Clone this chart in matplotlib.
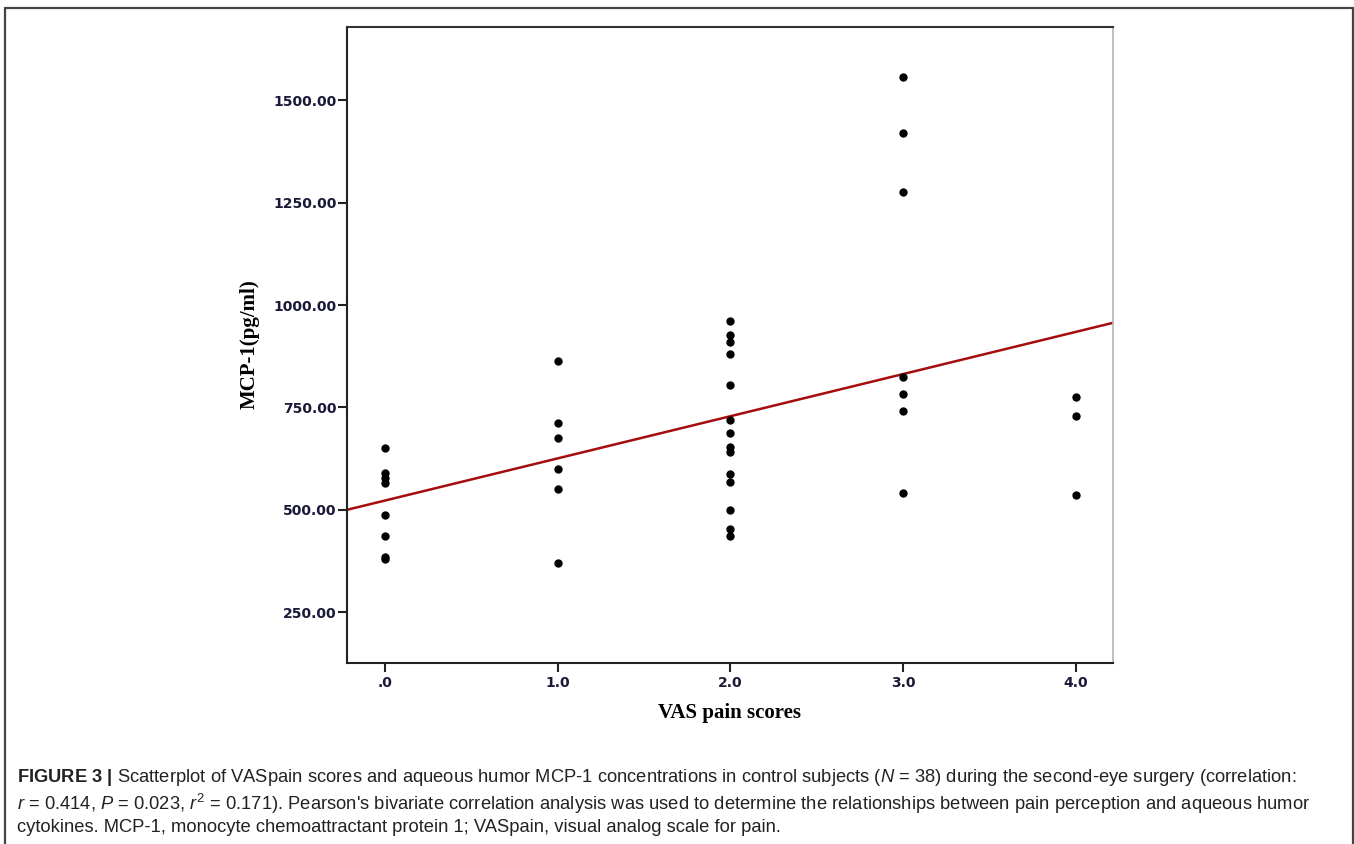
import numpy as np
import matplotlib
matplotlib.use("Agg")
import matplotlib.pyplot as plt
from matplotlib.patches import Rectangle

# ---- data ----
vas_0 = [651, 590, 577, 565, 488, 435, 386, 380]
vas_1 = [864, 711, 676, 600, 552, 371]
vas_2 = [961, 928, 909, 881, 806, 719, 687, 654, 642, 587, 568, 499, 453, 435]
vas_3 = [1556, 1421, 1275, 825, 783, 741, 542]
vas_4 = [776, 730, 537]
vas_levels = [0.0, 1.0, 2.0, 3.0, 4.0]
x_ticks = [0.0, 1.0, 2.0, 3.0, 4.0]
x_ticklabels = [".0", "1.0", "2.0", "3.0", "4.0"]
y_ticks = [250, 500, 750, 1000, 1250, 1500]
y_ticklabels = ["250.00", "500.00", "750.00", "1000.00", "1250.00", "1500.00"]

groups = [vas_0, vas_1, vas_2, vas_3, vas_4]
xs = np.concatenate([[lv] * len(g) for lv, g in zip(vas_levels, groups)])
ys = np.concatenate(groups).astype(float)

plt.rcParams['font.family'] = ['DejaVu Sans']
plt.rcParams['mathtext.fontset'] = 'custom'
plt.rcParams['mathtext.rm'] = 'Liberation Sans'
plt.rcParams['mathtext.it'] = 'Liberation Sans:italic'
plt.rcParams['mathtext.bf'] = 'Liberation Sans:bold'

W, H = 1354, 844
fig = plt.figure(figsize=(W / 100, H / 100), dpi=100)

# outer frame of the figure panel
fig.patches.append(Rectangle((5 / W, -0.02), (1353 - 5) / W, 1 - 8 / H + 0.02,
                             transform=fig.transFigure, fill=False,
                             edgecolor='#444444', linewidth=1.6))

L, R, T, B = 347, 1113, 27, 663
ax = fig.add_axes([L / W, 1 - B / H, (R - L) / W, (B - T) / H])

ax.scatter(xs, ys, s=36, color='black', zorder=3, linewidths=0)

xlim = (-0.22, 4.215)
ylim = (126, 1679)
slope, intercept = np.polyfit(xs, ys, 1)
xl = np.array(xlim)
ax.plot(xl, slope * xl + intercept, color='#a50d0d', lw=1.8, zorder=2)

ax.set_xlim(*xlim)
ax.set_ylim(*ylim)
ax.set_xticks(x_ticks)
ax.set_xticklabels(x_ticklabels, fontweight='bold')
ax.set_yticks(y_ticks)
ax.set_yticklabels(y_ticklabels, fontweight='bold')

ax.tick_params(axis='both', direction='out', length=6.5, width=1.5, color='#222222',
               labelsize=10, labelcolor='#1a1a38')
ax.tick_params(axis='x', pad=3)
ax.tick_params(axis='y', pad=1)

ax.spines['left'].set_color('#222222')
ax.spines['bottom'].set_color('#222222')
ax.spines['left'].set_linewidth(1.5)
ax.spines['bottom'].set_linewidth(1.5)
ax.spines['top'].set_color('#333333')
ax.spines['top'].set_linewidth(1.5)
ax.spines['right'].set_color('#b5b5b5')
ax.spines['right'].set_linewidth(1.2)

fig.text(730 / W, 1 - 713 / H, "VAS pain scores", family='Liberation Serif',
         weight='bold', fontsize=15, ha='center', va='center')
fig.text(250 / W, 1 - 344 / H, "MCP-1(pg/ml)", family='Liberation Serif',
         weight='bold', fontsize=15, ha='center', va='center', rotation=90)

cap_kw = dict(family='Liberation Sans', fontsize=13.2, ha='left', va='center', color='#222222')
fig.text(17 / W, 1 - 777 / H,
         r"$\mathbf{FIGURE\ 3\ |}$ Scatterplot of VASpain scores and aqueous humor MCP-1 "
         r"concentrations in control subjects ($\it{N}$ = 38) during the second-eye surgery (correlation:",
         **cap_kw)
fig.text(17 / W, 1 - 804 / H,
         r"$\it{r}$ = 0.414, $\it{P}$ = 0.023, $\it{r}^{2}$ = 0.171). Pearson's bivariate correlation "
         r"analysis was used to determine the relationships between pain perception and aqueous humor",
         **cap_kw)
fig.text(17 / W, 1 - 828 / H,
         "cytokines. MCP-1, monocyte chemoattractant protein 1; VASpain, visual analog scale for pain.",
         **cap_kw)

fig.savefig("out.png", dpi=100)
